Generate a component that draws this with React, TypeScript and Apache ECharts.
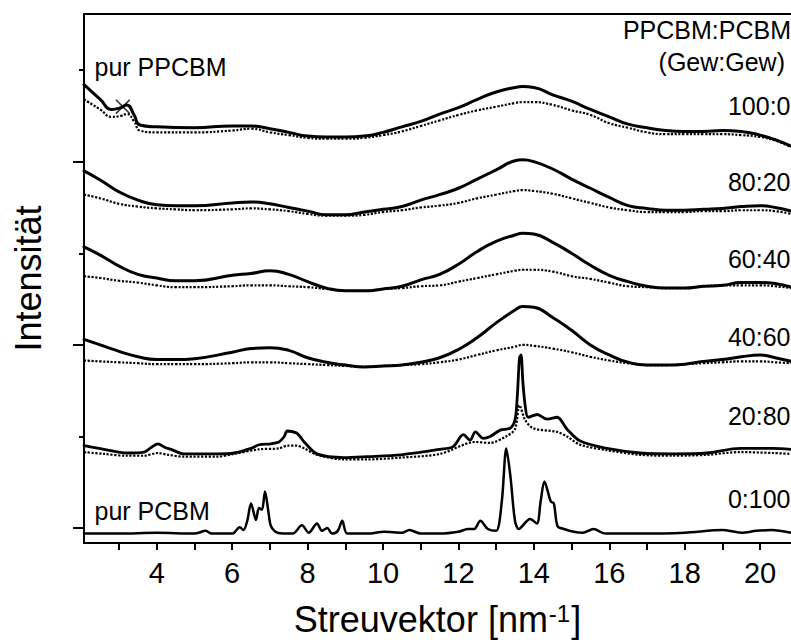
import { useEffect, useRef } from "react";
import * as echarts from "echarts";

// Streuvektor (nm^-1) sample positions and intensities (arbitrary units, stacked offsets)
const q100 = [2.07, 2.5, 2.8, 3.05, 3.2, 3.4, 3.55, 4, 5, 6, 6.5, 7, 7.5, 8, 8.5, 9, 9.5, 10, 10.5, 11, 11.5, 12, 12.5, 13, 13.5, 13.7, 14, 14.5, 15, 15.5, 16, 16.5, 17, 17.5, 18, 18.5, 19, 19.5, 20, 20.4, 20.82];
const i100Solid = [484, 468, 457, 459, 462, 451, 440, 438, 437, 439, 439, 436, 432, 428, 427, 427, 428, 432, 438, 444, 452, 459, 468, 476, 481, 482, 481, 473, 466, 457, 449, 441, 437, 434, 433, 433, 434, 433, 429, 424, 417];
const i100Dotted = [468, 457, 449, 450, 452, 444, 434, 432, 432, 434, 436, 432, 429, 426, 425, 425, 426, 429, 433, 439, 445, 451, 456, 460, 464, 465, 465, 462, 456, 451, 442, 437, 432, 430, 430, 430, 430, 429, 427, 423, 416];

const qBroad = [2.07, 2.5, 3, 3.5, 4, 4.5, 5, 6, 6.5, 7, 7.5, 8, 8.5, 9, 9.5, 10, 10.5, 11, 11.5, 12, 12.5, 13, 13.5, 13.7, 14, 14.5, 15, 15.5, 16, 16.5, 17, 17.5, 18, 18.5, 19, 19.5, 20, 20.4, 20.82];
const i80Solid = [390, 380, 367, 358, 353, 352, 352, 355, 356, 354, 350, 346, 342, 342, 345, 348, 351, 358, 364, 371, 381, 391, 401, 402, 400, 392, 381, 371, 361, 352, 349, 347, 347, 348, 349, 351, 352, 350, 346];
const i80Dotted = [364, 360, 354, 351, 349, 348, 347, 348, 349, 348, 346, 343, 341, 341, 342, 345, 347, 350, 352, 355, 360, 364, 368, 369, 368, 365, 360, 355, 350, 347, 345, 345, 345, 346, 346, 347, 347, 346, 343];
const i60Solid = [307, 298, 286, 277, 273, 270, 270, 276, 278, 281, 277, 269, 262, 259, 259, 261, 264, 271, 277, 288, 302, 313, 320, 322, 321, 312, 300, 287, 276, 269, 264, 262, 262, 264, 265, 268, 268, 267, 263];
const i60Dotted = [275, 273, 270, 268, 265, 263, 263, 264, 265, 265, 264, 263, 261, 259, 259, 261, 262, 264, 265, 269, 273, 277, 281, 282, 282, 280, 275, 272, 268, 264, 263, 262, 262, 264, 265, 265, 265, 264, 262];
const i40Solid = [206, 200, 193, 187, 184, 184, 185, 192, 196, 197, 194, 186, 181, 178, 176, 177, 178, 181, 186, 195, 208, 224, 238, 242, 241, 230, 216, 200, 189, 181, 178, 178, 179, 182, 184, 187, 189, 186, 182];
const i40Dotted = [183, 182, 181, 180, 179, 179, 179, 180, 181, 181, 180, 179, 178, 177, 176, 177, 178, 179, 181, 184, 189, 194, 198, 200, 199, 196, 192, 187, 183, 180, 178, 178, 179, 180, 181, 182, 182, 181, 180];

const q20Solid = [2.07, 2.6, 3.2, 3.66, 3.82, 4.03, 4.22, 4.38, 4.72, 5.6, 6.05, 6.5, 6.71, 7.03, 7.24, 7.38, 7.46, 7.7, 7.8, 7.91, 8.25, 8.97, 9.58, 10.48, 11.51, 11.86, 12.13, 12.31, 12.45, 12.66, 12.84, 13.11, 13.37, 13.5, 13.56, 13.62, 13.66, 13.71, 13.77, 13.85, 14.09, 14.35, 14.62, 14.88, 15.23, 15.94, 16.82, 17.69, 18.59, 19.47, 20.34, 20.82];
const i20Solid = [90, 86, 82, 83, 87, 92, 88, 86, 81, 81, 82, 87, 91, 92, 94, 100, 106, 104, 100, 94, 81, 77, 78, 80, 86, 89, 102, 96, 105, 98, 100, 107, 109, 118, 143, 186, 189, 159, 134, 121, 124, 119, 121, 108, 95, 87, 82, 81, 82, 87, 87, 86];
const q20Dotted = [2.07, 2.6, 3.2, 3.66, 4.03, 4.3, 4.72, 5.6, 6.05, 6.71, 7.24, 7.46, 7.7, 7.91, 8.25, 8.97, 9.58, 10.48, 11.51, 12.45, 12.84, 13.26, 13.5, 13.62, 13.77, 13.98, 14.62, 14.88, 15.23, 15.94, 16.82, 17.69, 18.59, 19.47, 20.34, 20.82];
const i20Dotted = [83, 81, 79, 79, 82, 80, 78, 78, 81, 86, 87, 90, 90, 87, 80, 75, 75, 77, 81, 94, 93, 100, 108, 134, 118, 109, 105, 100, 91, 85, 80, 79, 80, 83, 82, 81];

const q0 = [2.07, 3, 4, 5, 5.3, 5.45, 6, 6.2, 6.3, 6.4, 6.5, 6.63, 6.71, 6.79, 6.87, 6.96, 7.03, 7.2, 7.6, 7.85, 8.03, 8.25, 8.38, 8.52, 8.65, 8.8, 8.92, 9.05, 9.58, 10.03, 10.5, 10.7, 11, 11.5, 12.0, 12.25, 12.42, 12.58, 12.78, 13.0, 13.15, 13.27, 13.38, 13.5, 13.6, 13.9, 14.08, 14.18, 14.28, 14.45, 14.53, 14.63, 14.8, 15.06, 15.3, 15.58, 15.9, 16.8, 18, 19, 19.5, 19.9, 20.3, 20.82];
const i0 = [-6, -6, -5, -6, -3, -6, -6, 1, -2, 8, 27, 9, 22, 20, 40, 18, 2, -5, -6, 3, -5, 5, -3, 0, -6, -3, 8, -6, -6, -4, -5, -2, -6, -6, -4, -1, -1, 8, -1, -3, 29, 87, 56, 8, -1, 10, 5, 29, 51, 29, 27, 2, -1, -4, -5, -1, -6, -6, -5, -2, -5, -3, -2, -5];

const crossMark = [[3.1, 460]];

const xTickValues = [3, 4, 5, 6, 7, 8, 9, 10, 11, 12, 13, 14, 15, 16, 17, 18, 19, 20];
const xLabelValues = [4, 6, 8, 10, 12, 14, 16, 18, 20];
const yMajorTicks = [0, 200, 400];
const yMinorTicks = [100, 300, 500];
const ratioLabels = ["100:0", "80:20", "60:40", "40:60", "20:80", "0:100"];

const X_MIN = 2.07;
const X_MAX = 20.82;
const Y_MIN = -16.25;
const Y_MAX = 561.2;

const FONT = "'Liberation Sans', Arial, Helvetica, sans-serif";

const pair = (q: number[], v: number[]) => q.map((x, k) => [x, v[k]]);

export default function App() {
  const ref = useRef<HTMLDivElement>(null);

  useEffect(() => {
    if (!ref.current) return;
    const chart = echarts.init(ref.current, undefined, { renderer: "svg" });

    const solid = (data: number[][], width = 3, smooth = 0.5) => ({
      type: "line",
      data,
      showSymbol: false,
      symbol: "none",
      smooth,
      lineStyle: { color: "#000", width, type: "solid", join: "round", cap: "round" },
      z: 3,
    });
    const dotted = (data: number[][], smooth = 0.5) => ({
      type: "line",
      data,
      showSymbol: false,
      symbol: "none",
      smooth,
      lineStyle: { color: "#000", width: 2.2, type: [2.2, 1.6] },
      z: 2,
    });

    const labelY = [106, 181.5, 258.5, 336.5, 416, 499];
    const textStyle = (text: string, align: string) => ({
      text,
      fontSize: 25,
      fontFamily: FONT,
      fill: "#000",
      align,
      verticalAlign: "middle",
    });

    const axisLineStyle = { color: "#000", width: 2 };

    const option: any = {
      animation: false,
      backgroundColor: "#fff",
      grid: { left: 84, right: 0, top: 14, bottom: 95, containLabel: false },
      xAxis: [
        {
          type: "value",
          min: X_MIN,
          max: X_MAX,
          position: "bottom",
          axisLine: { show: true, onZero: false, lineStyle: axisLineStyle },
          axisTick: { show: true, customValues: xTickValues, length: 7, lineStyle: axisLineStyle },
          axisLabel: {
            show: true,
            customValues: xLabelValues,
            margin: 15,
            fontSize: 29,
            color: "#000",
            fontFamily: FONT,
          },
          splitLine: { show: false },
          name: "Streuvektor [nm{sup|-1}]",
          nameLocation: "middle",
          nameGap: 58,
          nameTextStyle: {
            fontSize: 36,
            lineHeight: 36,
            color: "#000",
            fontFamily: FONT,
            rich: {
              sup: {
                fontSize: 24,
                lineHeight: 24,
                fontFamily: FONT,
                color: "#000",
                verticalAlign: "bottom",
                padding: [0, 1, 12, 1],
              },
            },
          },
        },
        {
          type: "value",
          min: X_MIN,
          max: X_MAX,
          position: "top",
          axisLine: { show: true, onZero: false, lineStyle: axisLineStyle },
          axisTick: { show: false },
          axisLabel: { show: false },
          splitLine: { show: false },
        },
      ],
      yAxis: [
        {
          type: "value",
          min: Y_MIN,
          max: Y_MAX,
          position: "left",
          axisLine: { show: true, onZero: false, lineStyle: axisLineStyle },
          axisTick: { show: true, customValues: yMajorTicks, length: 11, lineStyle: axisLineStyle },
          axisLabel: { show: false },
          splitLine: { show: false },
          name: "Intensität",
          nameLocation: "middle",
          nameGap: 38,
          nameTextStyle: { fontSize: 36, color: "#000", fontFamily: FONT },
        },
        {
          type: "value",
          min: Y_MIN,
          max: Y_MAX,
          position: "left",
          axisLine: { show: false, onZero: false },
          axisTick: { show: true, customValues: yMinorTicks, length: 5, lineStyle: axisLineStyle },
          axisLabel: { show: false },
          splitLine: { show: false },
        },
      ],
      series: [
        dotted(pair(q100, i100Dotted)),
        solid(pair(q100, i100Solid)),
        dotted(pair(qBroad, i80Dotted)),
        solid(pair(qBroad, i80Solid)),
        dotted(pair(qBroad, i60Dotted)),
        solid(pair(qBroad, i60Solid)),
        dotted(pair(qBroad, i40Dotted)),
        solid(pair(qBroad, i40Solid)),
        dotted(pair(q20Dotted, i20Dotted), 0.3),
        solid(pair(q20Solid, i20Solid), 2.8, 0.3),
        solid(pair(q0, i0), 2.5, 0.3),
        {
          type: "scatter",
          data: crossMark,
          symbol:
            "path://M0,1.2L1.2,0L8,6.8L14.8,0L16,1.2L9.2,8L16,14.8L14.8,16L8,9.2L1.2,16L0,14.8L6.8,8Z",
          symbolSize: 15,
          itemStyle: { color: "#000" },
          z: 5,
        },
      ],
      graphic: [
        { type: "text", x: 791, y: 29.5, style: textStyle("PPCBM:PCBM", "right") },
        { type: "text", x: 785, y: 62, style: textStyle("(Gew:Gew)", "right") },
        ...ratioLabels.map((t, k) => ({
          type: "text",
          x: 790.5,
          y: labelY[k],
          style: textStyle(t, "right"),
        })),
        { type: "text", x: 94.5, y: 67, style: textStyle("pur PPCBM", "left") },
        { type: "text", x: 94.5, y: 511, style: textStyle("pur PCBM", "left") },
      ],
    };

    chart.setOption(option);
    return () => chart.dispose();
  }, []);

  return (
    <div
      ref={ref}
      style={{ position: "fixed", left: 0, top: 0, width: 791, height: 642, background: "#fff" }}
    />
  );
}
